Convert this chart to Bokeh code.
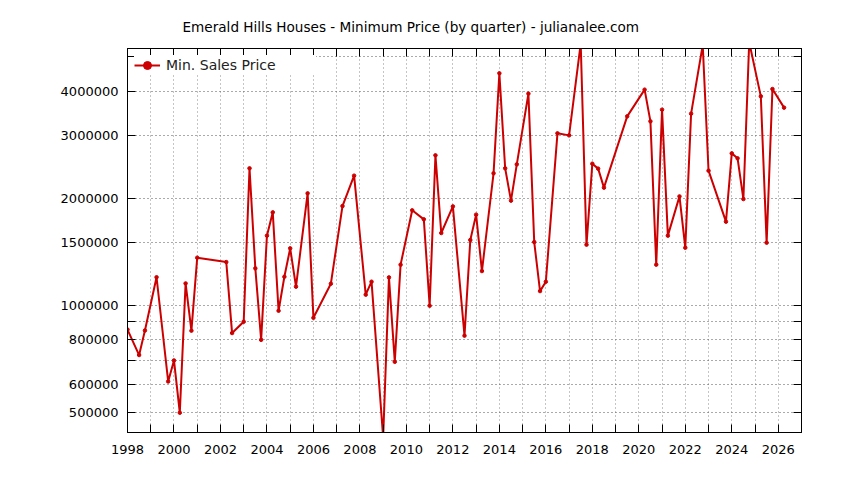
from bokeh.plotting import figure
from bokeh.models import (Range1d, FixedTicker, CustomJSTickFormatter, LinearAxis,
                          LogAxis, Legend, LegendItem, Title)
from bokeh.embed import file_html
from bokeh.resources import INLINE

# ---- data ----
quarters = [1998.0, 1998.5, 1998.75, 1999.25, 1999.75, 2000.0, 2000.25, 2000.5, 2000.75,
            2001.0, 2002.25, 2002.5, 2003.0, 2003.25, 2003.5, 2003.75, 2004.0, 2004.25,
            2004.5, 2004.75, 2005.0, 2005.25, 2005.75, 2006.0, 2006.75, 2007.25, 2007.75,
            2008.25, 2008.5, 2009.0, 2009.25, 2009.5, 2009.75, 2010.25, 2010.75, 2011.0,
            2011.25, 2011.5, 2012.0, 2012.5, 2012.75, 2013.0, 2013.25, 2013.75, 2014.0,
            2014.25, 2014.5, 2014.75, 2015.25, 2015.5, 2015.75, 2016.0, 2016.5, 2017.0,
            2017.5, 2017.75, 2018.0, 2018.25, 2018.5, 2019.5, 2020.25, 2020.5, 2020.75,
            2021.0, 2021.25, 2021.75, 2022.0, 2022.25, 2022.75, 2023.0, 2023.75, 2024.0,
            2024.25, 2024.5, 2024.75, 2025.25, 2025.5, 2025.75, 2026.25]
min_price = [855000, 725000, 850000, 1200000, 611000, 700000, 499000, 1153000, 849000,
             1362000, 1324000, 836000, 900000, 2430000, 1271000, 800000, 1571000, 1827000,
             966000, 1204000, 1447000, 1129000, 2066000, 923000, 1151000, 1903000, 2317000,
             1072000, 1166000, 425000, 1199000, 694000, 1302000, 1851000, 1746000, 998000,
             2643000, 1598000, 1899000, 822000, 1527000, 1800000, 1249000, 2352000, 4496000,
             2430000, 1971000, 2493000, 3942000, 1507000, 1097000, 1166000, 3048000, 3008000,
             5450000, 1482000, 2504000, 2425000, 2144000, 3402000, 4045000, 3294000, 1302000,
             3553000, 1571000, 2026000, 1453000, 3462000, 5400000, 2393000, 1720000, 2677000,
             2592000, 1991000, 5500000, 3873000, 1501000, 4061000, 3600000]

year_ticks = list(range(1998, 2028))
price_ticks = [500000, 600000, 700000, 800000, 900000, 1000000, 1500000, 2000000,
               3000000, 4000000, 5000000]
hidden_price_ticks = [700000, 900000, 5000000]

title_text = "Emerald Hills Houses - Minimum Price (by quarter) - julianalee.com"
series_name = "Min. Sales Price"

FONT = "DejaVu Sans"
RED = "#cc0000"

p = figure(width=836, height=472, x_range=Range1d(1998, 2027),
           y_range=Range1d(439000, 5280000), y_axis_type="log", title=None,
           output_backend="svg", toolbar_location=None,
           min_border_left=127, min_border_right=35, min_border_top=48,
           min_border_bottom=40, background_fill_color="white",
           border_fill_color="white", outline_line_color="black",
           outline_line_width=1)

xticker = FixedTicker(ticks=year_ticks, minor_ticks=[])
yticker = FixedTicker(ticks=price_ticks, minor_ticks=[])

xfmt = CustomJSTickFormatter(code="const t = Math.round(tick); return (t % 2 == 0) ? t.toString() : '';")
yfmt = CustomJSTickFormatter(args=dict(hidden=hidden_price_ticks),
                             code="const t = Math.round(tick); return hidden.includes(t) ? '' : t.toString();")
blank = CustomJSTickFormatter(code="return '';")

def style_axis(ax, labels=True):
    ax.axis_line_color = "black"
    ax.major_tick_in = 8
    ax.major_tick_out = 0
    ax.minor_tick_line_color = None
    ax.major_tick_line_color = "black"
    ax.major_label_text_font = FONT
    ax.major_label_text_font_size = "13px" if labels else "1px"
    ax.major_label_text_color = "black"

xa = p.xaxis[0]
xa.ticker = xticker
xa.formatter = xfmt
style_axis(xa)
xa.major_label_standoff = 12

ya = p.yaxis[0]
ya.ticker = yticker
ya.formatter = yfmt
style_axis(ya)
ya.major_label_standoff = 9

# top mirror axis (nearest to the frame)
top = LinearAxis(ticker=xticker, formatter=blank)
style_axis(top, labels=False)
top.major_label_standoff = 0
p.add_layout(top, "above")

# invisible spacer between the axis and the title
spacer = Title(text=" ", text_font_size="1px", text_alpha=0.0, standoff=4)
p.add_layout(spacer, "above")

# main title (outermost)
main_title = Title(text=title_text, text_font=FONT, text_font_size="13.6px",
                   text_font_style="normal", text_color="black", align="left",
                   offset=55, vertical_align="top", standoff=24)
p.add_layout(main_title, "above")

right = LogAxis(ticker=yticker, formatter=blank)
style_axis(right, labels=False)
right.major_label_standoff = 0
p.add_layout(right, "right")

p.xgrid.ticker = xticker
p.ygrid.ticker = yticker
p.xgrid.grid_line_color = "#8a8a8a"
p.xgrid.grid_line_dash = "1 3"
p.ygrid.grid_line_color = "#555555"
p.ygrid.grid_line_dash = "1 3"

r = p.line(quarters, min_price, line_color=RED, line_width=2)
s = p.scatter(quarters, min_price, marker="circle", size=3.5, color=RED)

legend = Legend(items=[LegendItem(label=series_name, renderers=[r, s])],
                location="top_left", margin=7, padding=10, glyph_width=26,
                label_standoff=6, label_width=150,
                border_line_color=None, background_fill_color="white",
                background_fill_alpha=1.0, label_text_font=FONT,
                label_text_font_size="14px", label_text_color="#222222")
p.add_layout(legend)

open("out.html", "w").write(file_html(p, INLINE))
